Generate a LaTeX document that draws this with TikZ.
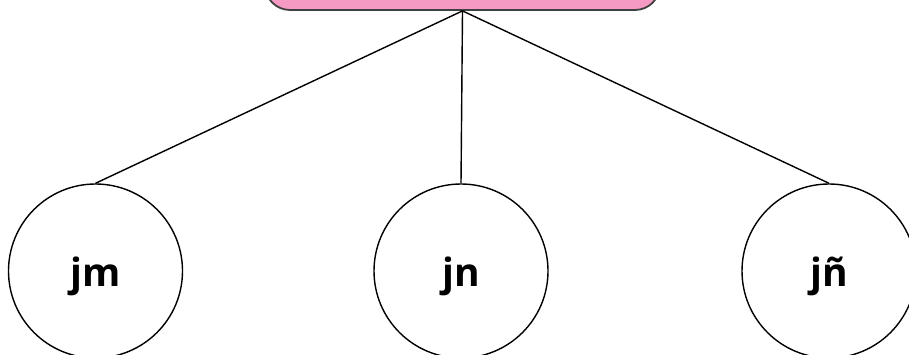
\documentclass[tikz,border=0pt]{standalone}
\usepackage{fontspec}
\setmainfont{Open Sans}
\usepackage{xcolor}
\usepackage{tikz}
\usetikzlibrary{positioning}

\definecolor{boxpink}{HTML}{F59BC3}
\newcommand{\leaftext}[1]{\raisebox{-5pt}[\height][\depth]{#1}}

\begin{document}
\begin{tikzpicture}[x=1pt, y=-1pt,
    topbox/.style={draw=black!75, line width=1.8pt, fill=boxpink, rounded corners=25pt,
        minimum width=395pt, minimum height=60pt},
    leaf/.style={circle, draw, line width=1.4pt, minimum size=174pt, inner sep=0pt,
        font=\fontsize{39}{41}\selectfont\bfseries}]

        \clip (0,0) rectangle (909,355);
        \useasboundingbox (0,0) rectangle (909,355);

        \node[topbox] (root) at (462.5,-20) {};
        \node[leaf] (jm) at (95.5,271) {\leaftext{jm}};
        \node[leaf] (jn) at (461,271) {\leaftext{jn}};
        \node[leaf] (jnn) at (829,271) {\leaftext{jñ}};

        \path[line width=1.4pt]
        (root.south) edge (jm.north)
        (root.south) edge (jn.north)
        (root.south) edge (jnn.north);

    \end{tikzpicture}
\end{document}
